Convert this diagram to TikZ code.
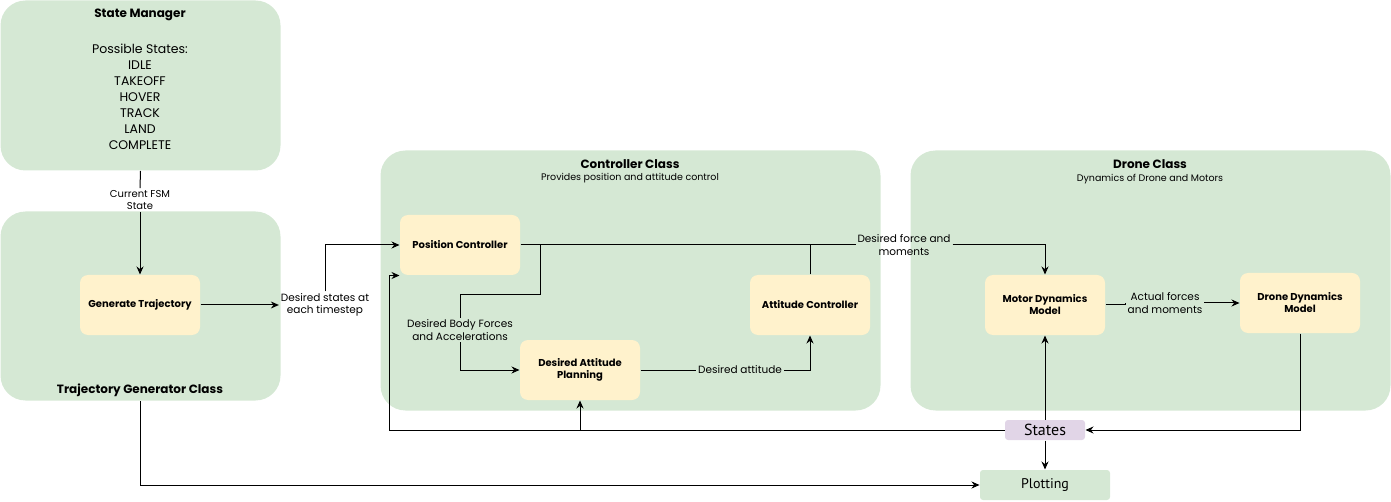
\documentclass[tikz,border=0pt]{standalone}
\usepackage{fontspec}
\setmainfont{Poppins}
\newfontfamily\narrowfont{PT Sans}
\usetikzlibrary{arrows.meta,positioning}

\definecolor{groupgreen}{HTML}{D5E8D4}
\definecolor{blockyellow}{HTML}{FFF2CC}
\definecolor{statepurple}{HTML}{E1D5E7}

\tikzset{
	group/.style={fill=groupgreen, rounded corners=25pt, anchor=north west, inner sep=0pt},
	block/.style={fill=blockyellow, rounded corners=8pt, minimum width=120pt, minimum height=60pt, align=center, font=\fontsize{10}{12}\selectfont\bfseries},
	note/.style={align=center, inner sep=1.5pt, font=\fontsize{10.5}{12.5}\selectfont},
	grouptitle/.style={font=\fontsize{12}{14}\selectfont\bfseries},
	groupsub/.style={font=\fontsize{9.5}{11}\selectfont},
	link/.style={-{Stealth[length=8pt,width=7pt]}},
}

\begin{document}
\begin{tikzpicture}[x=1pt, y=-1pt, line width=1pt]
	\useasboundingbox (0,0) rectangle (1391,502);

	\node [group, minimum width=280pt, minimum height=170pt] (manager) at (0,0) {};
	\node [group, minimum width=280pt, minimum height=189pt] (trajectory) at (0,211) {};
	\node [group, minimum width=500pt, minimum height=260pt] (controller) at (380,150) {};
	\node [group, minimum width=480pt, minimum height=260pt] (drone) at (910,150) {};

	\node [grouptitle] (managertitle) at (140,15) {State Manager};
	\node [align=center, font=\fontsize{12.5}{16}\selectfont] (statelist) at (140,97) {Possible States:\\IDLE\\TAKEOFF\\HOVER\\TRACK\\LAND\\COMPLETE};
	\node [grouptitle] (trajectorytitle) at (140,390) {Trajectory Generator Class};
	\node [grouptitle] (controllertitle) at (630,164) {Controller Class};
	\node [groupsub] (controllersub) at (630,178) {Provides position and attitude control};
	\node [grouptitle] (dronetitle) at (1150,164) {Drone Class};
	\node [groupsub] (dronesub) at (1150,179) {Dynamics of Drone and Motors};

	\node [block] (gentraj) at (140,305) {Generate Trajectory};
	\node [block] (poscontrol) at (460,245) {Position Controller};
	\node [block] (attcontrol) at (810,305) {Attitude Controller};
	\node [block] (attplan) at (580,370) {Desired Attitude\\Planning};
	\node [block] (motormodel) at (1045,305) {Motor Dynamics\\Model};
	\node [block] (dronemodel) at (1300,303) {Drone Dynamics\\Model};

	\node [fill=statepurple, rounded corners=3pt, minimum width=80pt, minimum height=20pt, inner sep=1pt, font=\narrowfont\fontsize{16}{17}\selectfont] (states) at (1045,430) {States};
	\node [fill=groupgreen, rounded corners=3pt, minimum width=130pt, minimum height=30pt, font=\narrowfont\fontsize{14}{16}\selectfont] (plotting) at (1045,485) {Plotting};

	\node [note, font=\fontsize{10}{12.5}\selectfont] (fsmlabel) at (140,200) {Current FSM\\State};
	\node [note] (desiredlabel) at (325,305) {Desired states at\\each timestep};
	\node [note] (forcelabel) at (904,245) {Desired force and\\moments};
	\node [note] (bodylabel) at (460,330) {Desired Body Forces\\and Accelerations};
	\node [note] (attlabel) at (740,370) {Desired attitude};
	\node [note] (actuallabel) at (1165,303) {Actual forces\\and moments};
	\coordinate (split) at (540,245);

	\draw (manager.south) -- (fsmlabel.north);
	\draw [link] (fsmlabel.south) -- (gentraj.north);
	\draw [link] (gentraj) -- (desiredlabel);
	\draw [link] (desiredlabel.north) |- (poscontrol.west);

	\draw (poscontrol.east) -- (forcelabel.west);
	\draw [link] (forcelabel.east) -| (motormodel.north);
	\draw (attcontrol.north) -- (attcontrol.north |- poscontrol.east);
	\draw (split) -- ++(0,50) -| (bodylabel.north);
	\draw [link] (bodylabel.south) |- (attplan.west);
	\draw (attplan.east) -- (attlabel.west);
	\draw [link] (attlabel.east) -| (attcontrol.south);

	\draw (motormodel.east) -| (actuallabel.west);
	\draw [link] (actuallabel.east) -- (dronemodel.west);
	\draw [link] (dronemodel.south) |- (states.east);

	\draw [link] (states.west) -| ([xshift=-10pt]poscontrol.south west) -- (poscontrol.south west);
	\draw [link] (states.west -| attplan.south) -- (attplan.south);
	\draw [link] (states.north) -- (motormodel.south);
	\draw [link] (states.south) -- (plotting.north);
	\draw [link] (trajectory.south) |- (plotting.west);
\end{tikzpicture}
\end{document}
